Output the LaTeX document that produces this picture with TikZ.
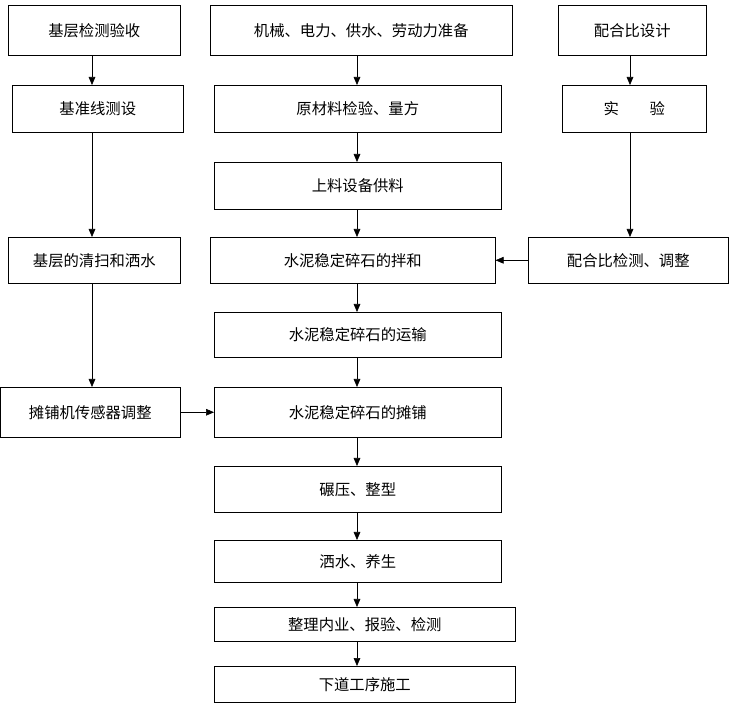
\documentclass[tikz,border=0pt]{standalone}
\usepackage{fontspec}
\setmainfont{Noto Sans CJK SC}
\usetikzlibrary{arrows.meta}
\begin{document}
\begin{tikzpicture}[x=0.75pt, y=-0.75pt, font=\fontsize{11.5}{13}\selectfont]
      \tikzset{
	  stage/.style={draw=black, thin, inner sep=0pt, text centered, anchor=north west},
	  link/.style={draw=black, thin, -{Triangle[length=6pt,width=5pt]}}
      }
      \useasboundingbox (0,0) rectangle (732,705);
      % left column
      \node[stage, minimum width=172*0.75pt, minimum height=50*0.75pt] (check) at (8,5) {基层检测验收};
      \node[stage, minimum width=171*0.75pt, minimum height=47*0.75pt] (line) at (12,85) {基准线测设};
      \node[stage, minimum width=172*0.75pt, minimum height=46*0.75pt] (clean) at (8,237) {基层的清扫和洒水};
      \node[stage, minimum width=180*0.75pt, minimum height=50*0.75pt] (sensor) at (0,387) {摊铺机传感器调整};
      % middle column
      \node[stage, minimum width=302*0.75pt, minimum height=50*0.75pt] (prep) at (210,5) {机械、电力、供水、劳动力准备};
      \node[stage, minimum width=287*0.75pt, minimum height=47*0.75pt] (raw) at (214,85) {原材料检验、量方};
      \node[stage, minimum width=287*0.75pt, minimum height=47*0.75pt] (feed) at (214,162) {上料设备供料};
      \node[stage, minimum width=285*0.75pt, minimum height=46*0.75pt] (mix) at (210,237) {水泥稳定碎石的拌和};
      \node[stage, minimum width=287*0.75pt, minimum height=45*0.75pt] (move) at (214,312) {水泥稳定碎石的运输};
      \node[stage, minimum width=287*0.75pt, minimum height=50*0.75pt] (pave) at (214,387) {水泥稳定碎石的摊铺};
      \node[stage, minimum width=287*0.75pt, minimum height=46*0.75pt] (roll) at (214,466) {碾压、整型};
      \node[stage, minimum width=287*0.75pt, minimum height=42*0.75pt] (cure) at (214,540) {洒水、养生};
      \node[stage, minimum width=301*0.75pt, minimum height=34*0.75pt] (report) at (214,607) {整理内业、报验、检测};
      \node[stage, minimum width=301*0.75pt, minimum height=36*0.75pt] (next) at (214,666) {下道工序施工};
      % right column
      \node[stage, minimum width=148*0.75pt, minimum height=50*0.75pt] (design) at (558,5) {配合比设计};
      \node[stage, minimum width=144*0.75pt, minimum height=47*0.75pt] (test) at (562,85) {实\hspace{2em}验};
      \node[stage, minimum width=200*0.75pt, minimum height=46*0.75pt] (adjust) at (528,237) {配合比检测、调整};

      \draw[link] (check.south -| 92,0) -- (line.north -| 92,0);
      \draw[link] (line.south -| 92,0) -- (clean.north -| 92,0);
      \draw[link] (clean.south -| 92,0) -- (sensor.north -| 92,0);
      \foreach \a/\b in {prep/raw, raw/feed, feed/mix, mix/move, move/pave, pave/roll, roll/cure, cure/report, report/next}
        \draw[link] (\a.south -| 357,0) -- (\b.north -| 357,0);
      \draw[link] (design.south -| 630,0) -- (test.north -| 630,0);
      \draw[link] (test.south -| 630,0) -- (adjust.north -| 630,0);
      \draw[link] (adjust.west) -- (mix.east);
      \draw[link] (sensor.east) -- (pave.west |- sensor.east);
\end{tikzpicture}
\end{document}
